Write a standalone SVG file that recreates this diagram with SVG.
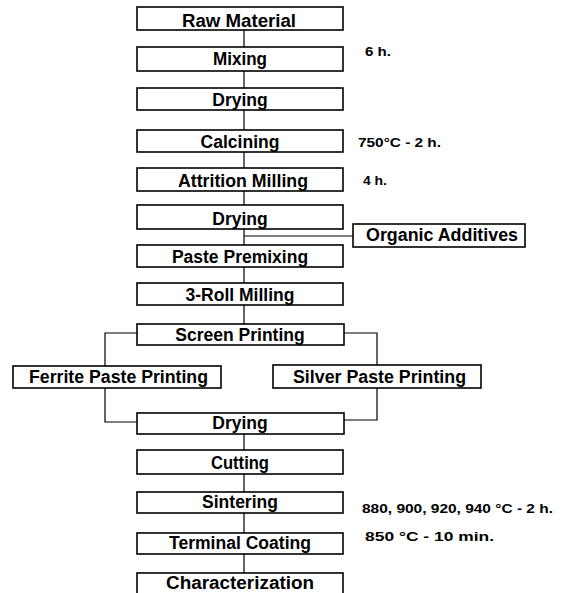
<svg xmlns="http://www.w3.org/2000/svg" width="565" height="593" viewBox="0 0 565 593">
<style>
.box{fill:#fff;stroke:#000;stroke-width:1.6}
.t{font-family:"Liberation Sans",Arial,sans-serif;font-weight:bold;font-size:17.5px;fill:#000;text-anchor:middle}
.n{font-family:"Liberation Sans",Arial,sans-serif;font-weight:bold;font-size:13px;fill:#000}
.c{fill:none;stroke:#000;stroke-width:1.2}
</style>
<rect width="565" height="593" fill="#fff"/>
<g id="connectors">
<path class="c" d="M244 30V47M244 71V88M244 110V130M244 152V168M244 191V205M244 229V245M244 267V283M244 305V324M244 434V450M244 474V492M244 513V533M244 554V573"/>
<path class="c" d="M244 236H353"/>
<path class="c" d="M137 333H105V366M105 388V422H137"/>
<path class="c" d="M344 333H377V365M377 388V420H344"/>
</g>
<g id="raw"><rect class="box" x="137" y="7" width="206" height="23"/><text class="t" x="239" y="27" textLength="114" lengthAdjust="spacingAndGlyphs">Raw Material</text></g>
<g id="mixing"><rect class="box" x="137" y="47" width="206" height="24"/><text class="t" x="240" y="65" textLength="54" lengthAdjust="spacingAndGlyphs">Mixing</text></g>
<g id="drying1"><rect class="box" x="137" y="88" width="206" height="22"/><text class="t" x="240" y="106">Drying</text></g>
<g id="calcining"><rect class="box" x="137" y="130" width="206" height="22"/><text class="t" x="240" y="148">Calcining</text></g>
<g id="attrition"><rect class="box" x="137" y="168" width="206" height="23"/><text class="t" x="243" y="187" textLength="130" lengthAdjust="spacingAndGlyphs">Attrition Milling</text></g>
<g id="drying2"><rect class="box" x="137" y="205" width="206" height="24"/><text class="t" x="240" y="225">Drying</text></g>
<g id="organic"><rect class="box" x="353" y="224" width="172" height="23"/><text class="t" x="442" y="241" textLength="152" lengthAdjust="spacingAndGlyphs">Organic Additives</text></g>
<g id="paste"><rect class="box" x="137" y="245" width="206" height="22"/><text class="t" x="240" y="263">Paste Premixing</text></g>
<g id="roll"><rect class="box" x="137" y="283" width="206" height="22"/><text class="t" x="240" y="301">3-Roll Milling</text></g>
<g id="screen"><rect class="box" x="137" y="324" width="207" height="21"/><text class="t" x="240" y="341">Screen Printing</text></g>
<g id="ferrite"><rect class="box" x="13" y="366" width="208" height="22"/><text class="t" x="118.5" y="383" textLength="179" lengthAdjust="spacingAndGlyphs">Ferrite Paste Printing</text></g>
<g id="silver"><rect class="box" x="273" y="365" width="208" height="23"/><text class="t" x="379.5" y="383" textLength="173" lengthAdjust="spacingAndGlyphs">Silver Paste Printing</text></g>
<g id="drying3"><rect class="box" x="137" y="413" width="207" height="21"/><text class="t" x="240" y="429">Drying</text></g>
<g id="cutting"><rect class="box" x="137" y="450" width="206" height="24"/><text class="t" x="240" y="469" textLength="58" lengthAdjust="spacingAndGlyphs">Cutting</text></g>
<g id="sintering"><rect class="box" x="137" y="492" width="206" height="21"/><text class="t" x="240" y="508">Sintering</text></g>
<g id="terminal"><rect class="box" x="137" y="533" width="206" height="21"/><text class="t" x="240" y="549" textLength="142" lengthAdjust="spacingAndGlyphs">Terminal Coating</text></g>
<g id="characterization"><rect class="box" x="137" y="573" width="206" height="25"/><text class="t" x="240" y="589" textLength="148" lengthAdjust="spacingAndGlyphs">Characterization</text></g>
<g id="notes">
<text class="n" x="365" y="56" textLength="26" lengthAdjust="spacingAndGlyphs">6 h.</text>
<text class="n" x="358" y="147" textLength="83" lengthAdjust="spacingAndGlyphs">750°C - 2 h.</text>
<text class="n" x="363" y="185" textLength="24" lengthAdjust="spacingAndGlyphs">4 h.</text>
<text class="n" x="362" y="513" textLength="191" lengthAdjust="spacingAndGlyphs">880, 900, 920, 940 °C - 2 h.</text>
<text class="n" x="365" y="541" textLength="129" lengthAdjust="spacingAndGlyphs">850 °C - 10 min.</text>
</g>
</svg>
